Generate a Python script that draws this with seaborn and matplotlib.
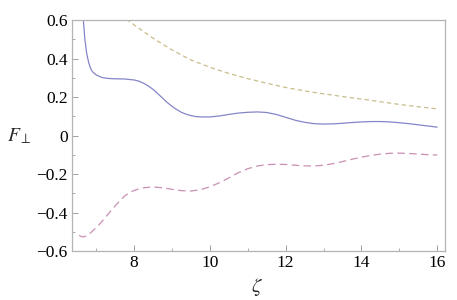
import numpy as np
import pandas as pd
import matplotlib
matplotlib.use("Agg")
import matplotlib.pyplot as plt
import seaborn as sns
from matplotlib.ticker import FixedLocator, MultipleLocator

# Curve values
zeta_blue = [6.62, 6.66, 6.70, 6.75, 6.80, 6.85, 6.90, 7.00, 7.15, 7.30, 7.50, 7.75,
             8.00, 8.125, 8.25, 8.375, 8.50, 8.625, 8.75, 8.875, 9.00, 9.125, 9.25,
             9.375, 9.50, 9.625, 9.75, 10.00, 10.25, 10.50, 10.75, 11.00, 11.25,
             11.50, 11.75, 12.00, 12.25, 12.50, 12.75, 13.00, 13.25, 13.50, 13.75,
             14.00, 14.25, 14.50, 14.75, 15.00, 15.25, 15.50, 15.75, 16.00]
f_blue = [0.68, 0.60, 0.50, 0.425, 0.38, 0.35, 0.332, 0.315, 0.302, 0.297, 0.295, 0.294,
          0.289, 0.283, 0.272, 0.258, 0.24, 0.218, 0.195, 0.172, 0.152, 0.135, 0.121,
          0.111, 0.104, 0.099, 0.097, 0.097, 0.102, 0.11, 0.117, 0.121, 0.123,
          0.12, 0.11, 0.095, 0.08, 0.069, 0.062, 0.06, 0.061, 0.064, 0.068,
          0.071, 0.073, 0.073, 0.071, 0.067, 0.062, 0.056, 0.05, 0.044]

zeta_pink = [6.55, 6.60, 6.67, 6.75, 6.85, 7.00, 7.125, 7.25, 7.375, 7.50, 7.625, 7.75,
             7.875, 8.00, 8.125, 8.25, 8.50, 8.75, 9.00, 9.25, 9.50, 9.75, 10.00, 10.25,
             10.50, 10.75, 11.00, 11.25, 11.50, 11.75, 12.00, 12.25, 12.50, 12.75,
             13.00, 13.25, 13.50, 13.75, 14.00, 14.25, 14.50, 14.75, 15.00, 15.25,
             15.50, 15.75, 16.00]
f_pink = [-0.518, -0.524, -0.526, -0.52, -0.505, -0.478, -0.452, -0.423, -0.394,
          -0.365, -0.338, -0.314, -0.297, -0.285, -0.277, -0.271, -0.267, -0.271,
          -0.279, -0.286, -0.288, -0.281, -0.266, -0.245, -0.22, -0.193, -0.172,
          -0.158, -0.151, -0.149, -0.15, -0.154, -0.157, -0.158, -0.154, -0.146,
          -0.135, -0.123, -0.112, -0.103, -0.096, -0.092, -0.091, -0.093, -0.096,
          -0.099, -0.101]

zeta_yellow = [7.80, 8.00, 8.50, 9.00, 9.50, 10.00, 10.50, 11.00, 11.50, 12.00, 12.50,
               13.00, 13.50, 14.00, 14.50, 15.00, 15.50, 16.00]
f_yellow = [0.605, 0.575, 0.506, 0.445, 0.393, 0.355, 0.323, 0.296, 0.272, 0.25, 0.232,
            0.217, 0.203, 0.19, 0.176, 0.162, 0.15, 0.139]

x_ticks = [8, 10, 12, 14, 16]
y_ticks = [-0.6, -0.4, -0.2, 0, 0.2, 0.4, 0.6]
y_tick_labels = ["\u22120.6", "\u22120.4", "\u22120.2", "0", "0.2", "0.4", "0.6"]

sns.set_theme(style="white")
plt.rcParams["font.family"] = ["Liberation Serif", "DejaVu Serif"]
plt.rcParams["mathtext.fontset"] = "stix"

fig = plt.figure(figsize=(4.57, 3.0), dpi=100)
ax = fig.add_axes([0.1575, 0.163, 0.8165, 0.770])

blue = pd.DataFrame({"zeta": zeta_blue, "F": f_blue})
pink = pd.DataFrame({"zeta": zeta_pink, "F": f_pink})
yellow = pd.DataFrame({"zeta": zeta_yellow, "F": f_yellow})

sns.lineplot(data=blue, x="zeta", y="F", ax=ax, color="#8585c8", lw=0.9, sort=False)
sns.lineplot(data=pink, x="zeta", y="F", ax=ax, color="#c98fb4", lw=0.9, sort=False,
             linestyle=(0, (6, 3.5)))
sns.lineplot(data=yellow, x="zeta", y="F", ax=ax, color="#c8be8a", lw=0.9, sort=False,
             linestyle=(0, (3.5, 2.5)))

ax.set_xlim(6.36, 16.21)
ax.set_ylim(-0.6, 0.6)

ax.xaxis.set_major_locator(FixedLocator(x_ticks))
ax.xaxis.set_minor_locator(MultipleLocator(1))
ax.yaxis.set_major_locator(FixedLocator(y_ticks))
ax.yaxis.set_minor_locator(MultipleLocator(0.1))
ax.set_yticklabels(y_tick_labels)

ax.tick_params(which="both", direction="in", colors="#a0a0a0", labelcolor="black",
               labelsize=12.5, bottom=True, left=True, top=False, right=False)
ax.tick_params(which="major", length=4, width=0.7, pad=3)
ax.tick_params(which="minor", length=2.2, width=0.6)

for side in ax.spines.values():
    side.set_color("#b4b4b4")
    side.set_linewidth(0.9)

ax.set_xlabel(r"$\zeta$", fontsize=15, va="center")
ax.set_ylabel(r"$F_\perp$", fontsize=14, rotation=0, ha="center", va="center")
ax.xaxis.set_label_coords(0.496, -0.156)
ax.yaxis.set_label_coords(-0.142, 0.498)

fig.savefig("out.png", dpi=100)
